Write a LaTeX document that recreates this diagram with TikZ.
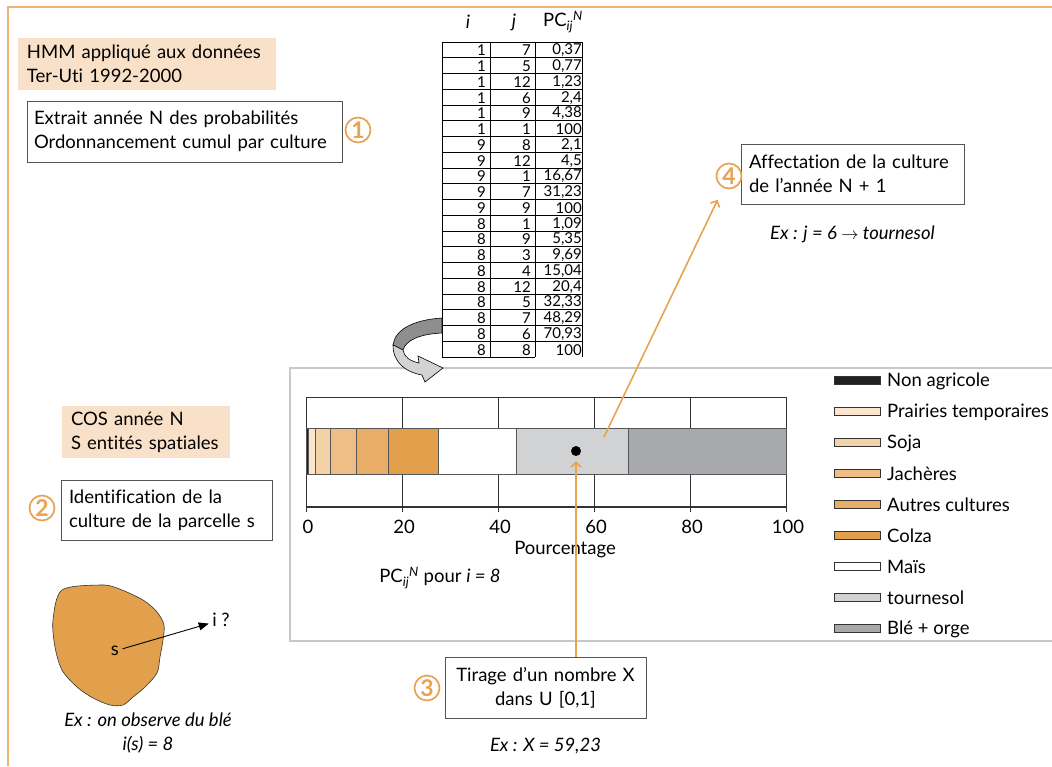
\documentclass[tikz,border=0pt]{standalone}
\usepackage{fontspec}
\setmainfont[Ligatures=NoCommon]{Lato}
\usepackage{tikz}
\usetikzlibrary{arrows.meta,positioning}

\definecolor{orangeline}{HTML}{E8A252}
\definecolor{framecol}{HTML}{EDB574}
\definecolor{beige}{HTML}{F8E1C8}
\definecolor{panelgrey}{HTML}{C8C8C8}
\definecolor{boxgrey}{HTML}{555555}
\definecolor{nonagri}{HTML}{231F20}
\definecolor{prairie}{HTML}{FBE5CF}
\definecolor{soja}{HTML}{F4D2A8}
\definecolor{jachere}{HTML}{EEBE86}
\definecolor{autres}{HTML}{E9AD68}
\definecolor{colza}{HTML}{E3A04C}
\definecolor{mais}{HTML}{FFFFFF}
\definecolor{tournesol}{HTML}{D1D2D4}
\definecolor{ble}{HTML}{A7A9AC}
\definecolor{ribbondark}{HTML}{8E8E8E}
\definecolor{ribbonlight}{HTML}{D2D3D5}

\tikzset{
	infobox/.style		= {draw=boxgrey, line width=0.8pt, fill=white, align=left, inner xsep=8pt, inner ysep=4pt},
	beigebox/.style		= {fill=beige, align=left, inner xsep=9pt, inner ysep=4pt},
	stepnum/.style		= {circle, draw=orangeline, line width=1.7pt, text=orangeline, inner sep=0pt, minimum size=25pt, font=\fontsize{23}{23}\selectfont\bfseries},
	example/.style		= {align=center, font=\fontsize{18.5}{24}\selectfont\itshape},
	orangearrow/.style	= {->, draw=orangeline, line width=1.6pt},
	tabcell/.style		= {anchor=east, inner sep=1pt, font=\fontsize{15}{15}\selectfont},
	tabline/.style		= {draw=black, line width=0.6pt},
	barseg/.style		= {draw=boxgrey, line width=0.8pt},
	swatch/.style		= {draw=black!80, line width=0.7pt},
	legendtext/.style	= {anchor=west, inner sep=0pt},
}

\begin{document}
\begin{tikzpicture}[x=1pt, y=-1pt, >={Straight Barb[length=5pt,width=10pt]}, font=\fontsize{18.5}{24}\selectfont]
	\useasboundingbox (0,0) rectangle (1052,766);

	% Frames
	\draw [framecol, line width=1.3pt] (1052,7) -- (8,7) -- (8,766);
	\draw [panelgrey, line width=1.3pt] (1052,368) -- (290,368) -- (290,641) -- (1052,641);

	% Nodes {hmm, extract, cos, ident, tirage, affect}
	\node [beigebox, minimum width=258, minimum height=52, text width=240]	(hmm)		at (147,64)		{HMM appliqué aux données\\Ter-Uti 1992-2000};
	\node [infobox, minimum width=315, minimum height=61, text width=301, inner xsep=7pt]	(extract)	at (184.5,131.5)	{Extrait année N des probabilités\\Ordonnancement cumul par culture};
	\node [beigebox, minimum width=168, minimum height=52, text width=150]	(cos)		at (146,432)	{COS année N\\S entités spatiales};
	\node [infobox, minimum width=211, minimum height=60, text width=195]	(ident)		at (166.5,510)	{Identification de la\\culture de la parcelle s};
	\node [infobox, minimum width=201, minimum height=61, text width=185, align=center]	(tirage)	at (545.5,687.5)	{Tirage d'un nombre X\\dans U [0,1]};
	\node [infobox, minimum width=223, minimum height=60, text width=207]	(affect)	at (852.5,174)	{Affectation de la culture\\de l'année N + 1};

	% Step numbers
	\node [stepnum]	(num1)	at (358,130)	{1};
	\node [stepnum]	(num2)	at (42,508)		{2};
	\node [stepnum]	(num3)	at (427,688)	{3};
	\node [stepnum]	(num4)	at (729,176)	{4};

	% Examples
	\node [example]	(ex4)	[below=18pt of affect]	{Ex : j = 6 $\rightarrow$ tournesol};
	\node [example]	(ex3)	[below=16pt of tirage]	{Ex : X = 59,23};
	\node [example]	(ex2)	at (148,733)			{Ex : on observe du blé\\i(s) = 8};

	% Parcel
	\fill [colza, draw=black!80, line width=0.6pt] plot [smooth cycle, tension=0.5] coordinates {
		(53,620) (62,590) (100,585) (117,588) (143,600) (157,612) (164,625) (163,640)
		(160,657) (157,673) (145,687) (133,697) (123,705) (110,705) (93,698) (77,687)
		(62,670) (55,647)};
	\node (parcel)	at (115,651)	{s};
	\node (iq)		at (221,620)	{i ?};
	\draw [-{Triangle[length=10pt,width=8pt]}, line width=0.9pt] (parcel) -- (iq);

	% Table
	\node (hi)	at (468,22)	{\itshape i};
	\node (hj)	at (514,22)	{\itshape j};
	\node (hpc)	at (563,22)	{PC\textsubscript{\itshape ij}\textsuperscript{\itshape N}};
	\foreach \i/\j/\p [count=\r from 0] in {1/7/{0,37}, 1/5/{0,77}, 1/12/{1,23}, 1/6/{2,4}, 1/9/{4,38}, 1/1/100,
		9/8/{2,1}, 9/12/{4,5}, 9/1/{16,67}, 9/7/{31,23}, 9/9/100,
		8/1/{1,09}, 8/9/{5,35}, 8/3/{9,69}, 8/4/{15,04}, 8/12/{20,4}, 8/5/{32,33}, 8/7/{48,29}, 8/6/{70,93}, 8/8/100} {
		\node [tabcell]	(ti-\r)		at (487,{50.5+15.75*\r})	{\i};
		\node [tabcell]	(tj-\r)		at (532,{50.5+15.75*\r})	{\j};
		\node [tabcell]	(tpc-\r)	at (583,{50.5+15.75*\r})	{\p};
	}
	\foreach \r in {0,...,19}
		\draw [tabline] (442,{42+15.75*\r}) -- (582,{42+15.75*\r});
	\draw [tabline] (442,357) -- (535,357);
	\foreach \x in {442,490,535,582}
		\draw [tabline] (\x,42) -- (\x,357);

	% Ribbon arrow
	\filldraw [fill=ribbondark, draw=black, line width=0.6pt]
		(442,318) .. controls (412,320) and (395,330) .. (393,345) -- (403,350) .. controls (406,340) and (420,334) .. (442,333) -- cycle;
	\filldraw [fill=ribbonlight, draw=black, line width=0.6pt]
		(403,350) .. controls (404,357) and (410,361) .. (419,363) -- (418,356) -- (443,368) -- (425,382) -- (422,375)
		.. controls (405,372) and (393,362) .. (393,345) -- cycle;

	% Chart
	\foreach \x in {402,498,594,690}
		\draw [black!80, line width=0.8pt] (\x,397) -- (\x,507);
	\draw [black!80, line width=0.8pt] (306,507) -- (306,397) -- (786,397) -- (786,507);
	\foreach \a/\b/\c in {0/0.6/nonagri, 0.6/1.9/prairie, 1.9/5.1/soja, 5.1/10.5/jachere, 10.5/17.2/autres,
		17.2/27.6/colza, 27.6/43.8/mais, 43.8/67.1/tournesol, 67.1/100/ble}
		\filldraw [barseg, fill=\c] ({306+4.8*\a},428) rectangle ({306+4.8*\b},474);
	\draw [black!80, line width=1.4pt] (306,507) -- (786,507);
	\foreach \v [count=\k from 0] in {0,20,40,60,80,100} {
		\draw [black!80, line width=0.8pt] ({306+96*\k},507) -- ({306+96*\k},512);
		\node (tick-\k) at ({308+96*\k},527) {\v};
	}
	\node (xlabel)	at (565,550)	{Pourcentage};
	\node (pcnote)	at (440,578)	{PC\textsubscript{\itshape ij}\textsuperscript{\itshape N} pour \textit{i = 8}};
	\node [circle, fill=black, inner sep=0pt, minimum size=10pt]	(dot)	at (576,451)	{};
	\coordinate (pick) at (604,437);

	% Legend
	\foreach \name/\col [count=\k from 0] in {Non agricole/nonagri, Prairies temporaires/prairie, Soja/soja, Jachères/jachere,
		Autres cultures/autres, Colza/colza, Maïs/mais, tournesol/tournesol, Blé + orge/ble} {
		\filldraw [swatch, fill=\col] (834,{376+31*\k}) rectangle (880,{384+31*\k});
		\node [legendtext]	(leg-\k)	at (887,{381+31*\k})	{\name};
	}

	% Paths
	\draw [orangearrow, shorten >=10pt]	(tirage.north -| dot) -- (dot.center);
	\draw [orangearrow, shorten >=13pt]	(pick) -- (num4);
\end{tikzpicture}
\end{document}
